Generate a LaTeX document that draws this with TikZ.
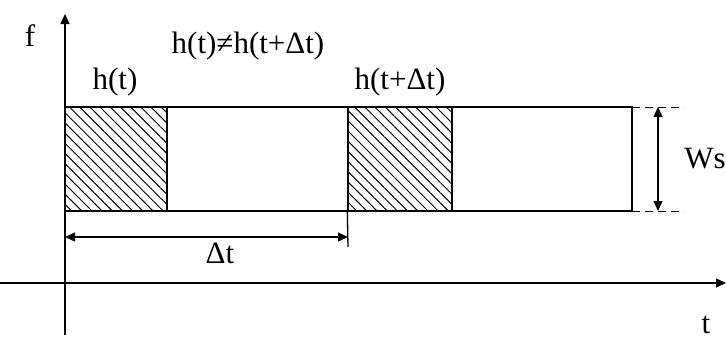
\documentclass[tikz,border=0pt]{standalone}
\usepackage{fontspec}
\setmainfont{Liberation Serif}
\usetikzlibrary{positioning,arrows.meta,patterns.meta}

\tikzset{
  axisline/.style={line width=0.65pt, -{Triangle[length=5pt,width=4.5pt]}},
  dimline/.style={line width=0.65pt, {Triangle[length=5pt,width=4.5pt]}-{Triangle[length=5pt,width=4.5pt]}},
  guide/.style={line width=0.5pt, dash pattern=on 4pt off 2.5pt},
  hatchbox/.style={draw, line width=0.65pt, minimum width=51pt, minimum height=52pt,
    inner sep=0pt, pattern={Lines[angle=-45,distance=3.6pt,line width=0.5pt]}},
  lbl/.style={font=\fontsize{15.5}{18}\selectfont, inner sep=0pt},
}

\begin{document}
\begin{tikzpicture}[x=0.5pt,y=-0.5pt]
  \useasboundingbox (0,0) rectangle (726,343);

  % axes
  \coordinate (ybot) at (65,335);
  \coordinate (ytop) at (65,14);
  \coordinate (xleft) at (0,283);
  \coordinate (xright) at (726,283);
  \draw[axisline] (ybot) -- (ytop);
  \draw[axisline] (xleft) -- (xright);
  \node[lbl] (flab) at (30,36) {f};
  \node[lbl] (tlab) at (706,325) {t};

  % window strip
  \coordinate (stripTL) at (65,107);
  \coordinate (stripTR) at (632,107);
  \coordinate (stripBR) at (632,211);
  \draw[line width=0.65pt] (stripTL) rectangle (stripBR);

  % hatched windows
  \node[hatchbox] (winA) at (116,159) {};
  \node[hatchbox, minimum width=52pt] (winB) at (400,159) {};
  \node[lbl] (hA) at (115,82) {h(t)};
  \node[lbl] (hB) at (400,82) {h(t+Δt)};
  \node[lbl] (hneq) at (248,46) {h(t)≠h(t+Δt)};

  % width Ws
  \coordinate (guideT) at (684,107);
  \coordinate (guideB) at (684,211);
  \coordinate (wsT) at (658,107);
  \coordinate (wsB) at (658,211);
  \draw[guide] (stripTR) -- (guideT);
  \draw[guide] (stripBR) -- (guideB);
  \draw[dimline] (wsT) -- (wsB);
  \node[lbl, anchor=west] (wslab) at (684,159) {Ws};

  % shift Delta t
  \coordinate (dtA) at (65,237);
  \coordinate (dtB) at (348,237);
  \coordinate (tick) at (348,247);
  \draw[line width=0.65pt] (winB.south west) -- (tick);
  \draw[dimline] (dtA) -- (dtB);
  \node[lbl] (dtlab) at (220,253) {Δt};
\end{tikzpicture}
\end{document}
